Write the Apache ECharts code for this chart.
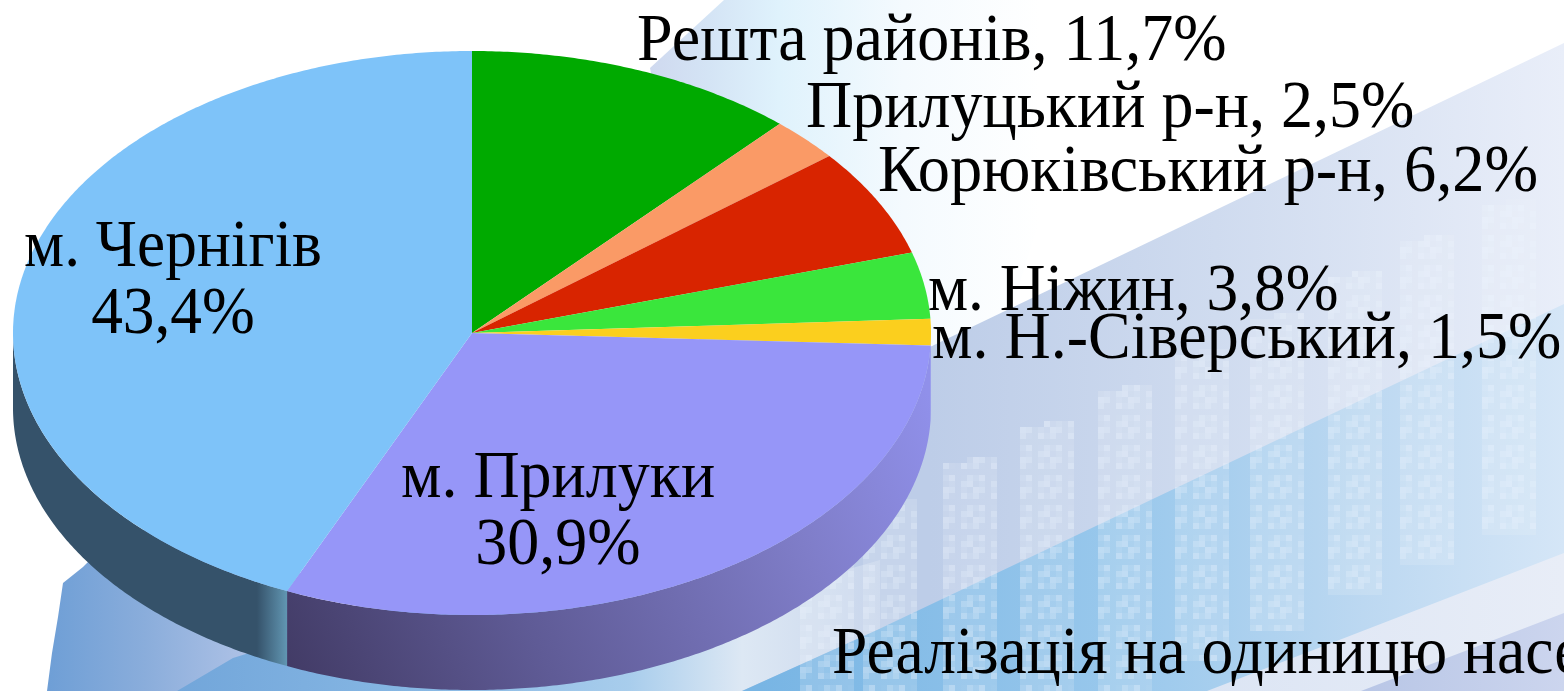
<!DOCTYPE html>
<html>
<head>
<meta charset="utf-8">
<style>html,body{margin:0;padding:0;background:#fff;overflow:hidden}#c{width:1564px;height:691px}</style>
<script src="https://cdn.jsdelivr.net/npm/echarts@6/dist/echarts.min.js"></script>
</head>
<body>
<div id="c"></div>
<script>
// ---- data ----
const categories = ['Решта районів', 'Прилуцький р-н', 'Корюківський р-н', 'м. Ніжин', 'м. Н.-Сіверський', 'м. Прилуки', 'м. Чернігів'];
const shares = [11.7, 2.5, 6.2, 3.8, 1.5, 30.9, 43.4];
const topColors = ['#00aa00', '#fa9a66', '#d82400', '#3ae63c', '#fbcf1e', '#9696f8', '#7ec3f9'];
const captionText = 'Реалізація на одиницю населення';

// ---- layout ----
const CX = 472, CY = 333, RX = 459, RY = 282, DEPTH = 75;
const labelLayout = [
  {x: 637, y: 42, align: 'left', size: 64},
  {x: 806, y: 109, align: 'left', size: 64},
  {x: 878, y: 173, align: 'left', size: 64.4},
  {x: 928, y: 292, align: 'left', size: 63.4},
  {x: 932, y: 340, align: 'left', size: 64},
  {x: 558, y: 513, align: 'center', split: true, size: 64},
  {x: 173, y: 282, align: 'center', split: true, size: 63.4}
];
const FONT = '"Liberation Serif", "Times New Roman", serif';
const STRETCH = 1.06;

const lin = (x, y, x2, y2, stops) => ({type: 'linear', x, y, x2, y2, global: true,
  colorStops: stops.map(s => ({offset: s[0], color: s[1]}))});
const sideFills = [
  '#006a00', '#a8623e', '#8a1700', '#24902a', '#9696f8',
  lin(287, 691, 931, 400, [[0, '#413a64'], [0.35, '#5f5b96'], [0.75, '#7f7dc8'], [1, '#9090ea']]),
  lin(13, 0, 287, 0, [[0, '#35526a'], [0.89, '#35526a'], [1, '#6196b2']])
];

const pct = v => v.toFixed(1).replace('.', ',') + '%';
const cumStart = i => shares.slice(0, i).reduce((a, b) => a + b, 0);
const pt = (deg, dy) => {
  const r = deg * Math.PI / 180;
  return [CX + RX * Math.sin(r), CY - RY * Math.cos(r) + (dy || 0)];
};
const rangeOf = i => {
  const a0 = cumStart(i) * 3.6;
  return [a0, a0 + shares[i] * 3.6];
};
const arc = (a0, a1, dy) => {
  const out = [], n = Math.max(2, Math.ceil((a1 - a0) * 2));
  for (let k = 0; k <= n; k++) out.push(pt(a0 + (a1 - a0) * k / n, dy));
  return out;
};

// ---- backdrop (decorative picture behind the pie) ----
const bg = [];
const poly = (points, fill) => bg.push({type: 'polygon', silent: true, shape: {points}, style: {fill}});
poly([[650, 68], [724, 0], [1110, 0], [1000, 345], [700, 345]],
  lin(650, 0, 1040, 0, [[0, '#cfd9ef'], [0.15, '#d4e4f5'], [0.33, '#dff2fc'], [0.65, '#f4fafe'], [1, '#ffffff']]));
poly([[932, 346], [1564, 43], [1564, 691], [240, 691], [500, 500]],
  lin(930, 0, 1564, 0, [[0, '#bdcde8'], [0.45, '#cfdbef'], [1, '#e9eef9']]));
poly([[47, 691], [52, 653], [58, 617], [63, 583], [83, 567], [120, 530], [300, 530], [300, 691]],
  lin(50, 0, 240, 0, [[0, '#6f9fd6'], [0.5, '#8aaddb'], [1, '#abc0e5']]));
poly([[177, 691], [233, 658], [420, 600], [742, 600], [742, 691]],
  lin(177, 0, 742, 0, [[0, '#72a6da'], [0.45, '#88b8e4'], [0.8, '#a8cdec'], [1, '#dde8f4']]));
poly([[742, 691], [742, 600], [880, 560], [880, 629]],
  lin(742, 0, 880, 0, [[0, '#dde8f4'], [1, '#c9d6ec']]));
poly([[742, 691], [877, 630], [1397, 383], [1564, 304], [1564, 691]],
  lin(760, 0, 1564, 0, [[0, '#78b5e4'], [0.45, '#99c8ec'], [0.75, '#bcd8f1'], [1, '#d5e6f7']]));
poly([[1207, 691], [1347, 637], [1564, 553], [1564, 691]],
  lin(1207, 0, 1564, 0, [[0, '#dce5f4'], [1, '#e8edf7']]));
poly([[1361, 691], [1564, 613], [1564, 691]],
  lin(1361, 0, 1564, 0, [[0, '#b8c6e6'], [1, '#ccd5ee']]));

// window columns of the pixelated building
const colX = [800, 863, 943, 1020, 1098, 1175, 1250, 1328, 1400, 1482];
const CELL = 6;
colX.forEach((x0, c) => {
  const topY = 497 - 0.485 * (x0 + 25 - 888);
  const botY = Math.min(691, 530 + 0.42 * (1507 - (x0 + 25)));
  for (let i = 0; i < 9; i++) {
    const x = x0 + i * CELL;
    const yTop = Math.round((topY + (i < 4 ? 6 : 0)) / CELL) * CELL + 1;
    for (let y = yTop; y < botY; y += CELL) {
      const k = (i * 7 + Math.round(y / CELL) * 3 + c * 5 + i * Math.round(y / CELL)) % 5;
      const op = [0.2, 0.4, 0.28, 0.46, 0.18][k];
      bg.push({type: 'rect', silent: true, shape: {x, y, width: CELL, height: CELL},
        style: {fill: '#eef4fc', opacity: op}});
    }
  }
});

// ---- series ----
const rows = categories.map((name, i) => ({name, value: [i, shares[i]]}));

const sideItem = (params, api) => {
  const i = api.value(0);
  const [a0, a1] = rangeOf(i);
  const from = Math.max(a0, 90), to = Math.min(a1, 270);
  if (to <= from) return null;
  const points = arc(from, to, 0).concat(arc(from, to, DEPTH).reverse());
  return {type: 'polygon', shape: {points}, style: {fill: sideFills[i]}};
};
const topItem = (params, api) => {
  const i = api.value(0);
  const [a0, a1] = rangeOf(i);
  const points = [[CX, CY]].concat(arc(a0, a1, 0));
  return {type: 'polygon', shape: {points}, style: {fill: topColors[i]}};
};
const labelItem = (params, api) => {
  const i = api.value(0), p = labelLayout[i];
  const v = pct(api.value(1));
  const text = p.split ? categories[i] + '\n' + v : categories[i] + ', ' + v;
  return {type: 'text', scaleY: STRETCH, originX: p.x, originY: p.y,
    style: {x: p.x, y: p.y, text, fill: '#000', font: p.size + 'px ' + FONT,
    lineHeight: 63, align: p.align, verticalAlign: 'middle'}};
};
const base = {type: 'custom', coordinateSystem: 'none', silent: true, animation: false, data: rows,
  encode: {value: [1]}};

const chart = echarts.init(document.getElementById('c'), null, {renderer: 'canvas'});
chart.setOption({
  animation: false,
  backgroundColor: '#ffffff',
  tooltip: {show: false},
  graphic: {elements: bg.concat([{type: 'text', z: 50, silent: true, scaleY: STRETCH, originX: 832, originY: 655,
    style: {x: 832, y: 655, text: captionText, fill: '#000', font: '63.5px ' + FONT, verticalAlign: 'middle'}}])},
  series: [
    Object.assign({}, base, {name: 'side', z: 2, renderItem: sideItem}),
    Object.assign({}, base, {name: 'top', z: 3, renderItem: topItem}),
    Object.assign({}, base, {name: 'labels', z: 4, renderItem: labelItem})
  ]
});
</script>
</body>
</html>
